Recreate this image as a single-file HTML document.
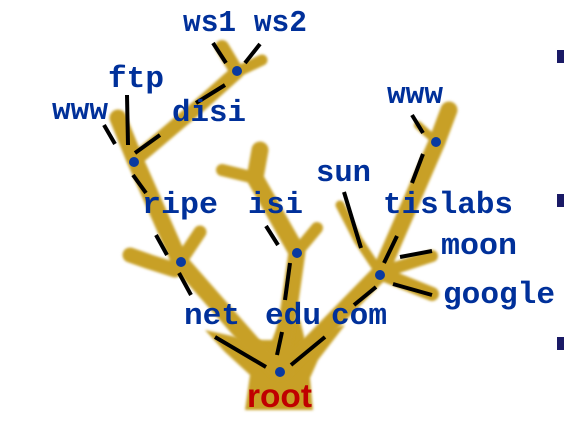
<!DOCTYPE html>
<html><head><style>html,body{margin:0;padding:0;background:#fff;width:564px;height:430px;overflow:hidden}</style></head>
<body>
<svg width="564" height="430" viewBox="0 0 564 430" xmlns="http://www.w3.org/2000/svg">
<defs><filter id="b"><feGaussianBlur stdDeviation="1.3"/></filter></defs>
<g filter="url(#b)" fill="#c8a028">
 <path d="M245,410 L250,375 L225,352 L205,330 L250,340 L272,340 L280,320 L300,320 L305,340 L325,330 L345,325 L318,360 L310,378 L313,410 Z"/>
</g>
<g filter="url(#b)" stroke="#c8a028" stroke-linecap="round" stroke-linejoin="round" fill="none">
 <path d="M275,370 L180,262 L135,160 L118,118" stroke-width="17"/>
 <path d="M135,160 L200,105 L237,72 L222,47" stroke-width="14"/>
 <path d="M237,72 L262,60" stroke-width="11"/>
 <path d="M180,262 L200,232" stroke-width="13"/>
 <path d="M175,270 L150,262 L130,255" stroke-width="15"/>
 <path d="M280,372 L297,252 L255,178 L260,150" stroke-width="17"/>
 <path d="M255,178 L222,170" stroke-width="12"/>
 <path d="M297,252 L317,228" stroke-width="12"/>
 <path d="M285,370 L380,273 L437,142 L449,110" stroke-width="17"/>
 <path d="M437,142 L418,125" stroke-width="8"/>
 <path d="M380,273 L358,240 L340,205" stroke-width="9"/>
 <path d="M380,273 L432,256" stroke-width="12"/>
 <path d="M380,273 L432,294" stroke-width="14"/>
</g>
<g stroke="#000" stroke-width="4">
 <line x1="215" y1="337" x2="266" y2="367"/>
 <line x1="277" y1="355" x2="282" y2="332"/>
 <line x1="285" y1="300" x2="290" y2="263"/>
 <line x1="291" y1="365" x2="325" y2="337"/>
 <line x1="354" y1="305" x2="376" y2="287"/>
 <line x1="191" y1="295" x2="179" y2="273"/>
 <line x1="167" y1="255" x2="156" y2="235"/>
 <line x1="146" y1="193" x2="133" y2="175"/>
 <line x1="135" y1="153" x2="160" y2="135"/>
 <line x1="196" y1="103" x2="225" y2="85"/>
 <line x1="213" y1="43" x2="226" y2="63"/>
 <line x1="260" y1="44" x2="245" y2="63"/>
 <line x1="127" y1="95" x2="128" y2="145"/>
 <line x1="104" y1="125" x2="115" y2="144"/>
 <line x1="266" y1="226" x2="278" y2="245"/>
 <line x1="344" y1="192" x2="361" y2="248"/>
 <line x1="384" y1="263" x2="397" y2="236"/>
 <line x1="412" y1="183" x2="423" y2="154"/>
 <line x1="412" y1="115" x2="423" y2="133"/>
 <line x1="400" y1="257" x2="432" y2="251"/>
 <line x1="393" y1="284" x2="432" y2="295"/>
</g>
<g fill="#0a3aa0">
 <circle cx="280" cy="372" r="5"/><circle cx="181" cy="262" r="5"/><circle cx="134" cy="162" r="5"/>
 <circle cx="237" cy="71" r="5"/><circle cx="297" cy="253" r="5"/><circle cx="380" cy="275" r="5"/>
 <circle cx="436" cy="142" r="5"/>
</g>
<g font-family="'Liberation Mono',monospace" font-weight="bold" font-size="31" fill="#00309a">
 <text x="183" y="31" textLength="124" lengthAdjust="spacingAndGlyphs">ws1 ws2</text>
 <text x="108" y="87" textLength="56" lengthAdjust="spacingAndGlyphs">ftp</text>
 <text x="52" y="119" textLength="56" lengthAdjust="spacingAndGlyphs">www</text>
 <text x="172" y="121" textLength="74" lengthAdjust="spacingAndGlyphs">disi</text>
 <text x="142" y="213" textLength="76" lengthAdjust="spacingAndGlyphs">ripe</text>
 <text x="248" y="213" textLength="55" lengthAdjust="spacingAndGlyphs">isi</text>
 <text x="316" y="181" textLength="55" lengthAdjust="spacingAndGlyphs">sun</text>
 <text x="383" y="213" textLength="130" lengthAdjust="spacingAndGlyphs">tislabs</text>
 <text x="387" y="103" textLength="56" lengthAdjust="spacingAndGlyphs">www</text>
 <text x="441" y="254" textLength="76" lengthAdjust="spacingAndGlyphs">moon</text>
 <text x="443" y="303" textLength="112" lengthAdjust="spacingAndGlyphs">google</text>
 <text x="184" y="324" textLength="56" lengthAdjust="spacingAndGlyphs">net</text>
 <text x="265" y="324" textLength="56" lengthAdjust="spacingAndGlyphs">edu</text>
 <text x="331" y="324" textLength="56" lengthAdjust="spacingAndGlyphs">com</text>
</g>
<text x="247" y="407" font-family="'Liberation Sans',sans-serif" font-weight="bold" font-size="33" fill="#c00000" textLength="65" lengthAdjust="spacingAndGlyphs">root</text>
<g fill="#1a1a66">
 <rect x="557" y="50" width="7" height="13"/>
 <rect x="557" y="194" width="7" height="13"/>
 <rect x="557" y="337" width="7" height="13"/>
</g>
</svg>
</body></html>
